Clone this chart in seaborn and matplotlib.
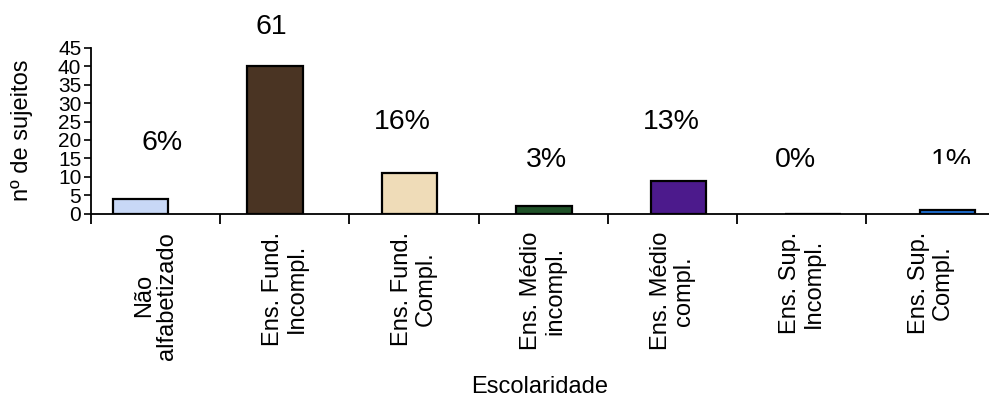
import matplotlib
matplotlib.use("Agg")
import matplotlib.pyplot as plt
from matplotlib.patches import Rectangle
import pandas as pd
import seaborn as sns

# Data
categorias = [
    "Não\nalfabetizado",
    "Ens. Fund.\nIncompl.",
    "Ens. Fund.\nCompl.",
    "Ens. Médio\nincompl.",
    "Ens. Médio\ncompl.",
    "Ens. Sup.\nIncompl.",
    "Ens. Sup.\nCompl.",
]
sujeitos = [4, 40, 11, 2, 9, 0, 1]
rotulos = ["6%", "61", "16%", "3%", "13%", "0%", "1%"]

# Styling
cores = ["#c8d8f6", "#4a3423", "#efdcb8", "#1f5128", "#4c1a8c", "#ffffff", "#1f72d8"]
# where each percentage text box sits (offset from bar centre, height in y units)
rotulo_dx = [0.16, -0.03, -0.05, 0.02, -0.05, -0.13, 0.03]
rotulo_y = [19.2, 50.6, 24.9, 14.6, 24.9, 14.6, 14.2]

sns.set_theme(style="white")
plt.rcParams["font.family"] = ["Liberation Sans", "DejaVu Sans"]

fig = plt.figure(figsize=(9.89, 3.98), dpi=100)
ax = fig.add_axes([0.092, 0.463, 0.908, 0.417])

df = pd.DataFrame({"escolaridade": categorias, "n": sujeitos})
sns.barplot(
    data=df, x="escolaridade", y="n", hue="escolaridade", palette=cores,
    width=0.41, edgecolor="black", linewidth=1.6, saturation=1,
    legend=False, ax=ax,
)

ax.set_xlim(-0.368, 6.309)
ax.set_ylim(0, 45)
ax.set_yticks(range(0, 46, 5))
ax.tick_params(axis="y", left=True, direction="out", length=5, width=1.2,
               color="black", labelsize=15, pad=2, labelcolor="black")
ax.set_xticks([])
ax.set_xlabel("")
ax.set_ylabel("nº de sujeitos", fontsize=17, color="black", labelpad=18)
for lado in ["top", "right"]:
    ax.spines[lado].set_visible(False)
for lado in ["left", "bottom"]:
    ax.spines[lado].set_color("black")
    ax.spines[lado].set_linewidth(1.3)

# Category axis: slot boundaries as ticks, names centred in each slot
ax_cat = ax.twiny()
ax_cat.xaxis.set_ticks_position("bottom")
ax_cat.xaxis.set_label_position("bottom")
ax_cat.set_xlim(-0.5, -0.5 + 898 / 129.2)
ax_cat.set_xticks([i - 0.5 for i in range(len(categorias))])
ax_cat.set_xticklabels([])
ax_cat.set_xticks(range(len(categorias)), minor=True)
ax_cat.set_xticklabels(categorias, minor=True, rotation=90, fontsize=17,
                       ha="center", va="top", multialignment="center",
                       linespacing=1.1)
ax_cat.tick_params(axis="x", which="major", direction="out", length=7,
                   width=1.3, color="black")
ax_cat.tick_params(axis="x", which="minor", length=0, pad=13, labelcolor="black")
for sp in ax_cat.spines.values():
    sp.set_visible(False)
ax_cat.set_xlabel("Escolaridade", fontsize=17, color="black", labelpad=12)

# Percentage labels
for i, (txt, dx, yy) in enumerate(zip(rotulos, rotulo_dx, rotulo_y)):
    t = ax.text(i + dx, yy, txt, ha="center", va="center", fontsize=20.5,
                color="black", clip_on=False)
    if i == len(rotulos) - 1:
        t.set_clip_on(True)
        t.set_clip_path(Rectangle((i - 0.5, 13.5), 1.5, 40, transform=ax.transData))

fig.savefig("out.png", dpi=100)
